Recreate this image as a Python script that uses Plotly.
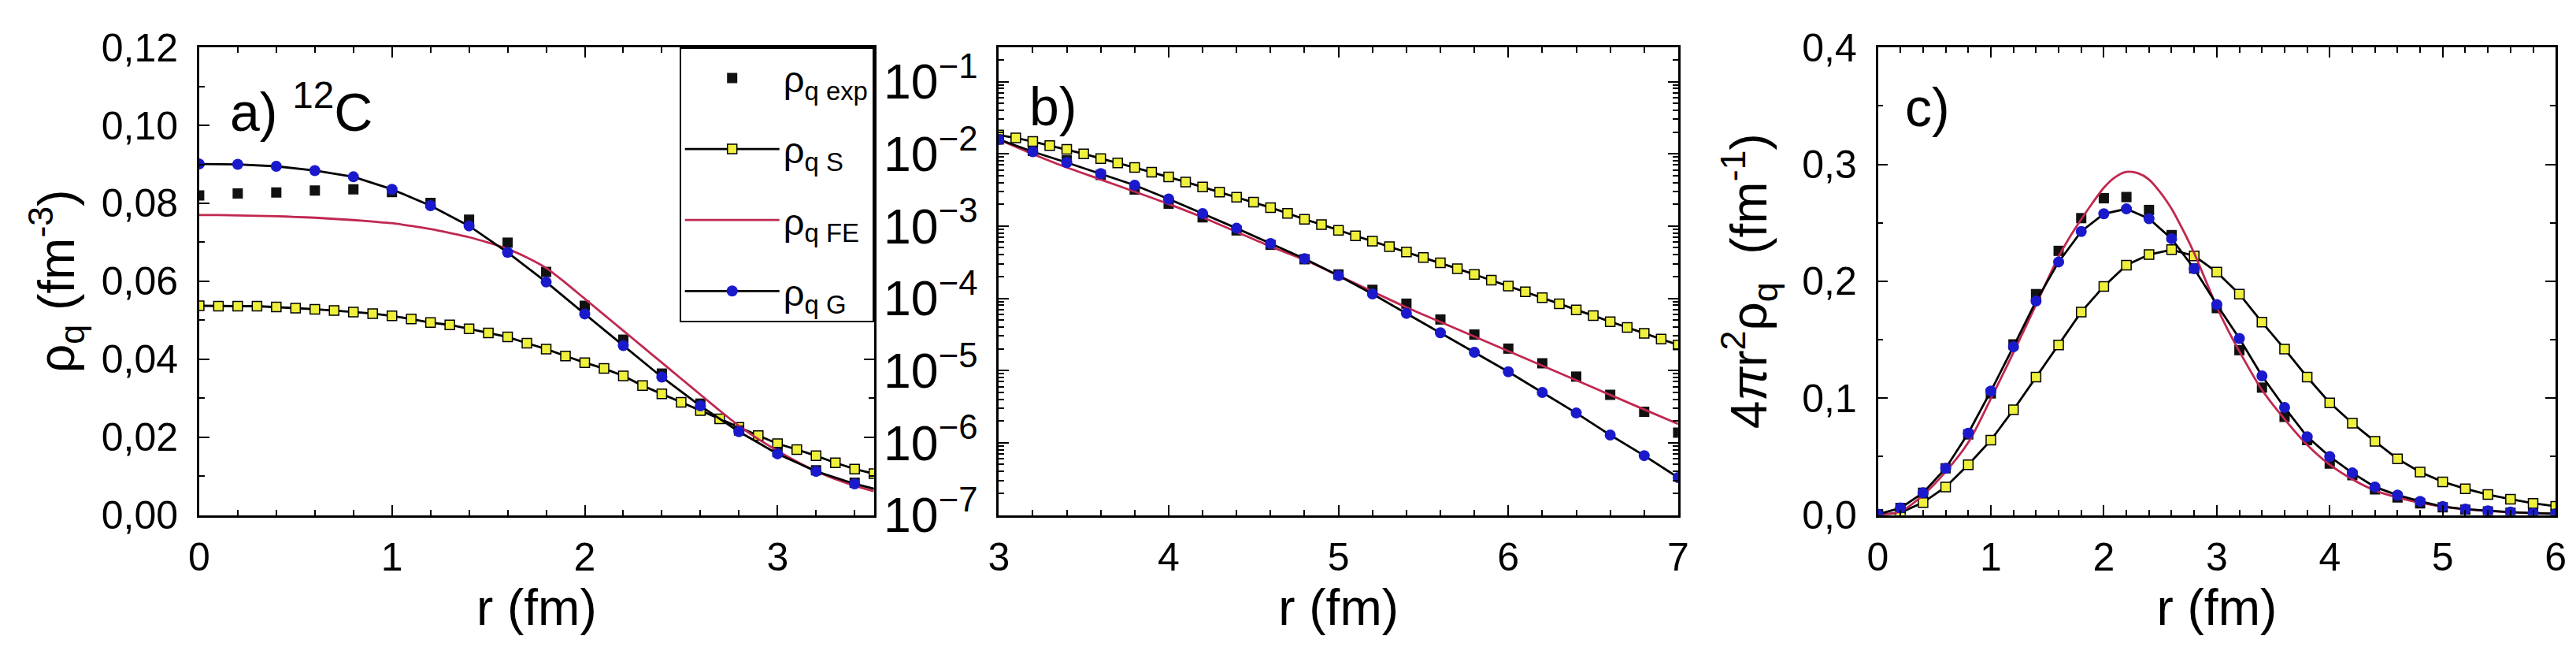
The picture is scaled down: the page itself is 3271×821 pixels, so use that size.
import plotly.graph_objects as go

# ---- panel a) 12C charge density, linear scale ----
r_a = [0.0, 0.2, 0.4, 0.6, 0.8, 1.0, 1.2, 1.4, 1.6, 1.8, 2.0, 2.2, 2.4, 2.6, 2.8, 3.0, 3.2, 3.4, 3.6]
rho_exp_a = [0.0820, 0.0825, 0.0828, 0.0833, 0.0836, 0.0829, 0.0801, 0.0758, 0.0699, 0.0624,
             0.0537, 0.0450, 0.0363, 0.0286, 0.0217, 0.0162, 0.0115, 0.0083, 0.0052]
rho_g_a = [0.0901, 0.0900, 0.0895, 0.0884, 0.0868, 0.0836, 0.0794, 0.0742, 0.0674, 0.0598,
           0.0516, 0.0435, 0.0354, 0.0280, 0.0214, 0.0157, 0.0112, 0.0080, 0.0055]
r_a_fine = [0.0, 0.1, 0.2, 0.3, 0.4, 0.5, 0.6, 0.7, 0.8, 0.9, 1.0, 1.1, 1.2, 1.3, 1.4, 1.5, 1.6, 1.7,
            1.8, 1.9, 2.0, 2.1, 2.2, 2.3, 2.4, 2.5, 2.6, 2.7, 2.8, 2.9, 3.0, 3.1, 3.2, 3.3, 3.4, 3.5]
rho_s_a = [0.0537, 0.0536, 0.0536, 0.0536, 0.0534, 0.0531, 0.0528, 0.0525, 0.0521, 0.0517,
           0.0511, 0.0503, 0.0494, 0.0488, 0.0478, 0.0467, 0.0457, 0.0441, 0.0426, 0.0408,
           0.0391, 0.0376, 0.0357, 0.0332, 0.0311, 0.0289, 0.0268, 0.0247, 0.0225, 0.0204,
           0.0183, 0.0168, 0.0152, 0.0134, 0.0118, 0.0106]
rho_fe_a = [0.0770, 0.0770, 0.0769, 0.0768, 0.0767, 0.0765, 0.0763, 0.0760, 0.0757, 0.0753,
            0.0749, 0.0742, 0.0734, 0.0724, 0.0713, 0.0699, 0.0683, 0.0661, 0.0634, 0.0596,
            0.0555, 0.0514, 0.0473, 0.0432, 0.0391, 0.0350, 0.0309, 0.0268, 0.0229, 0.0195,
            0.0165, 0.0137, 0.0113, 0.0092, 0.0075, 0.0061]

# ---- panel b) tail, log scale ----
r_b = [3.0, 3.2, 3.4, 3.6, 3.8, 4.0, 4.2, 4.4, 4.6, 4.8, 5.0, 5.2, 5.4, 5.6, 5.8, 6.0, 6.2, 6.4, 6.6, 6.8, 7.0]
rho_exp_b = [1.58e-2, 1.10e-2, 8.1e-3, 5.1e-3, 3.2e-3, 2.04e-3, 1.32e-3, 8.7e-4, 5.5e-4, 3.47e-4,
             2.14e-4, 1.31e-4, 8.43e-5, 5.09e-5, 3.15e-5, 2.01e-5, 1.26e-5, 8.24e-6, 4.60e-6, 2.68e-6, 1.38e-6]
rho_g_b = [1.58e-2, 1.07e-2, 7.57e-3, 5.33e-3, 3.68e-3, 2.37e-3, 1.49e-3, 9.33e-4, 5.73e-4, 3.54e-4,
           2.06e-4, 1.15e-4, 6.18e-5, 3.33e-5, 1.79e-5, 9.62e-6, 4.98e-6, 2.58e-6, 1.28e-6, 6.64e-7, 3.30e-7]
rho_fe_b = [1.58e-2, 9.93e-3, 6.47e-3, 4.40e-3, 2.99e-3, 2.02e-3, 1.32e-3, 8.30e-4, 5.21e-4, 3.40e-4,
            2.06e-4, 1.24e-4, 7.50e-5, 4.71e-5, 2.96e-5, 1.86e-5, 1.17e-5, 7.33e-6, 4.60e-6, 2.89e-6, 1.82e-6]
r_b_fine = [3.0, 3.1, 3.2, 3.3, 3.4, 3.5, 3.6, 3.7, 3.8, 3.9, 4.0, 4.1, 4.2, 4.3, 4.4, 4.5, 4.6, 4.7,
            4.8, 4.9, 5.0, 5.1, 5.2, 5.3, 5.4, 5.5, 5.6, 5.7, 5.8, 5.9, 6.0, 6.1, 6.2, 6.3, 6.4, 6.5,
            6.6, 6.7, 6.8, 6.9, 7.0]
rho_s_b = [1.82e-2, 1.66e-2, 1.48e-2, 1.30e-2, 1.15e-2, 1.00e-2, 8.61e-3, 7.50e-3, 6.46e-3, 5.56e-3,
           4.79e-3, 4.07e-3, 3.47e-3, 2.95e-3, 2.51e-3, 2.14e-3, 1.80e-3, 1.50e-3, 1.24e-3, 1.05e-3,
           8.71e-4, 7.33e-4, 6.17e-4, 5.19e-4, 4.37e-4, 3.67e-4, 3.09e-4, 2.57e-4, 2.14e-4, 1.78e-4,
           1.48e-4, 1.23e-4, 1.02e-4, 8.41e-5, 6.92e-5, 5.75e-5, 4.73e-5, 3.94e-5, 3.27e-5, 2.72e-5, 2.26e-5]

# ---- panel c) 4 pi r^2 rho ----
r_c = [0.0, 0.2, 0.4, 0.6, 0.8, 1.0, 1.2, 1.4, 1.6, 1.8, 2.0, 2.2, 2.4, 2.6, 2.8, 3.0,
       3.2, 3.4, 3.6, 3.8, 4.0, 4.2, 4.4, 4.6, 4.8, 5.0, 5.2, 5.4, 5.6, 5.8, 6.0]
w_exp_c = [0.0006, 0.006, 0.019, 0.040, 0.069, 0.104, 0.146, 0.189, 0.226, 0.254, 0.271, 0.272,
           0.261, 0.2395, 0.211, 0.177, 0.141, 0.109, 0.084, 0.064, 0.044, 0.034, 0.022, 0.015,
           0.010, 0.0065, 0.0045, 0.003, 0.002, 0.0013, 0.0008]
w_g_c = [0.0006, 0.006, 0.019, 0.040, 0.070, 0.106, 0.144, 0.183, 0.2165, 0.2426, 0.2577, 0.2619,
         0.2535, 0.2364, 0.2107, 0.180, 0.151, 0.119, 0.092, 0.067, 0.050, 0.036, 0.024, 0.017,
         0.0117, 0.0072, 0.0050, 0.0035, 0.0025, 0.0016, 0.0010]
w_s_c = [0.0, 0.002, 0.0107, 0.024, 0.043, 0.064, 0.090, 0.118, 0.1455, 0.1737, 0.1956, 0.2138,
         0.2228, 0.227, 0.2217, 0.2078, 0.189, 0.165, 0.142, 0.118, 0.096, 0.0786, 0.063, 0.048,
         0.0368, 0.0284, 0.0225, 0.0175, 0.0135, 0.0100, 0.0075]
r_c_fe = [0.0, 0.2, 0.4, 0.6, 0.8, 1.0, 1.2, 1.4, 1.6, 1.7, 1.8, 1.9, 2.0, 2.1, 2.2, 2.3, 2.4, 2.5,
          2.6, 2.7, 2.8, 2.9, 3.0, 3.1, 3.2, 3.4, 3.6, 3.8, 4.0, 4.2, 4.4, 4.6, 4.8, 5.0, 5.2, 5.4,
          5.6, 5.8, 6.0]
w_fe_c = [0.0, 0.003, 0.017, 0.037, 0.062, 0.0995, 0.139, 0.180, 0.221, 0.238, 0.253, 0.267,
          0.280, 0.289, 0.2935, 0.2925, 0.287, 0.276, 0.262, 0.244, 0.224, 0.201, 0.178, 0.158,
          0.140, 0.107, 0.082, 0.060, 0.043, 0.0305, 0.021, 0.015, 0.0105, 0.0072, 0.0050, 0.0035,
          0.0024, 0.0016, 0.0010]

# tick labels of the linear y axes
ticks_a = [0, 0.02, 0.04, 0.06, 0.08, 0.10, 0.12]
ticks_c = [0, 0.1, 0.2, 0.3, 0.4]

FONT = 'Liberation Sans, Arial, sans-serif'
YELLOW = '#eef03c'
BLUE = '#1a1acc'
RED = '#c02850'

names = {'exp': 'ρ<sub>q exp</sub>', 'S': 'ρ<sub>q S</sub>', 'FE': 'ρ<sub>q FE</sub>', 'G': 'ρ<sub>q G</sub>'}
ranks = {'exp': 1, 'S': 2, 'FE': 3, 'G': 4}


def series(x, y, kind, xa, ya, show):
    # one curve of one panel, styled by its model
    if kind == 'exp':
        style = dict(mode='markers', marker=dict(symbol='square', size=13, color='#111111'))
    elif kind == 'S':
        style = dict(mode='lines+markers', line=dict(color='black', width=2.8),
                     marker=dict(symbol='square', size=12, color=YELLOW, line=dict(color='black', width=1.5)))
    elif kind == 'FE':
        style = dict(mode='lines', line=dict(color=RED, width=2.8, shape='spline', smoothing=0.8))
    else:
        style = dict(mode='lines+markers', line=dict(color='black', width=2.8),
                     marker=dict(symbol='circle', size=14, color=BLUE))
    return go.Scatter(x=x, y=y, xaxis=xa, yaxis=ya, name=names[kind], showlegend=show,
                      legendgroup=kind, legendrank=ranks[kind], **style)


fig = go.Figure()
# drawing order: S, exp, FE, G
fig.add_trace(series(r_a_fine, rho_s_a, 'S', 'x', 'y', True))
fig.add_trace(series(r_a, rho_exp_a, 'exp', 'x', 'y', True))
fig.add_trace(series(r_a_fine, rho_fe_a, 'FE', 'x', 'y', True))
fig.add_trace(series(r_a, rho_g_a, 'G', 'x', 'y', True))

fig.add_trace(series(r_b_fine, rho_s_b, 'S', 'x2', 'y2', False))
fig.add_trace(series(r_b, rho_exp_b, 'exp', 'x2', 'y2', False))
fig.add_trace(series(r_b, rho_fe_b, 'FE', 'x2', 'y2', False))
fig.add_trace(series(r_b, rho_g_b, 'G', 'x2', 'y2', False))

fig.add_trace(series(r_c, w_s_c, 'S', 'x3', 'y3', False))
fig.add_trace(series(r_c, w_exp_c, 'exp', 'x3', 'y3', False))
fig.add_trace(series(r_c_fe, w_fe_c, 'FE', 'x3', 'y3', False))
fig.add_trace(series(r_c, w_g_c, 'G', 'x3', 'y3', False))


def axis(minor_dtick, **kw):
    a = dict(showline=True, linecolor='black', linewidth=2.5, mirror='allticks',
             ticks='inside', ticklen=13, tickwidth=2, tickcolor='black',
             showgrid=False, zeroline=False, tickfont=dict(size=50, color='black'),
             minor=dict(ticks='inside', ticklen=7, tickwidth=1.5, tickcolor='black',
                        showgrid=False, dtick=minor_dtick))
    a.update(kw)
    return a


ydom = [0.1851, 0.9671]
xtitle = dict(text='r (fm)', font=dict(size=64, color='black'), standoff=12)

fig.update_layout(
    width=3271, height=821,
    margin=dict(l=0, r=0, t=0, b=0),
    paper_bgcolor='white', plot_bgcolor='white',
    separators=', ',
    font=dict(family=FONT, color='black'),
    xaxis=axis(0.2, domain=[0.0712, 0.3354], range=[0, 3.5], dtick=1, anchor='y',
               title=xtitle, ticklabelstandoff=8),
    yaxis=axis(0.01, domain=ydom, range=[0, 0.12005], tickmode='array',
               tickvals=ticks_a, tickformat='.2f', anchor='x', ticklabelstandoff=14,
               ticklabeloverflow='allow',
               title=dict(text='ρ<sub>q</sub> (fm<sup>-3</sup>)', font=dict(size=64, color='black'), standoff=14)),
    xaxis2=axis(0.2, domain=[0.3843, 0.6503], range=[3, 7], dtick=1, anchor='y2',
                title=xtitle, ticklabelstandoff=8),
    yaxis2=axis('D1', domain=ydom, type='log', range=[-7, -0.525], dtick=1, exponentformat='power',
                anchor='x2', ticklabelstandoff=14),
    xaxis3=axis(0.2, domain=[0.7285, 0.9939], range=[0, 6], dtick=1, anchor='y3',
                title=xtitle, ticklabelstandoff=8),
    yaxis3=axis(0.05, domain=ydom, range=[0, 0.4002], tickmode='array',
                tickvals=ticks_c, tickformat='.1f', anchor='x3', ticklabelstandoff=14,
                ticklabeloverflow='allow',
                title=dict(text='4<i>π</i>r<sup>2</sup>ρ<sub>q</sub>\u00a0\u00a0(fm<sup>-1</sup>)',
                           font=dict(size=64, color='black'), standoff=24)),
    legend=dict(x=0.3354, xanchor='right', y=0.9671, yanchor='top',
                bgcolor='white', bordercolor='black', borderwidth=2,
                font=dict(size=47, color='black'), itemwidth=120, tracegroupgap=26,
                traceorder='grouped'),
    annotations=[
        dict(text='a) <sup>12</sup>C', xref='x domain', yref='y domain', x=0.043, y=0.87,
             xanchor='left', yanchor='middle', showarrow=False, font=dict(size=68)),
        dict(text='b)', xref='x2 domain', yref='y2 domain', x=0.043, y=0.874,
             xanchor='left', yanchor='middle', showarrow=False, font=dict(size=68)),
        dict(text='c)', xref='x3 domain', yref='y3 domain', x=0.038, y=0.872,
             xanchor='left', yanchor='middle', showarrow=False, font=dict(size=68)),
    ],
)

fig.write_html('out.html')
